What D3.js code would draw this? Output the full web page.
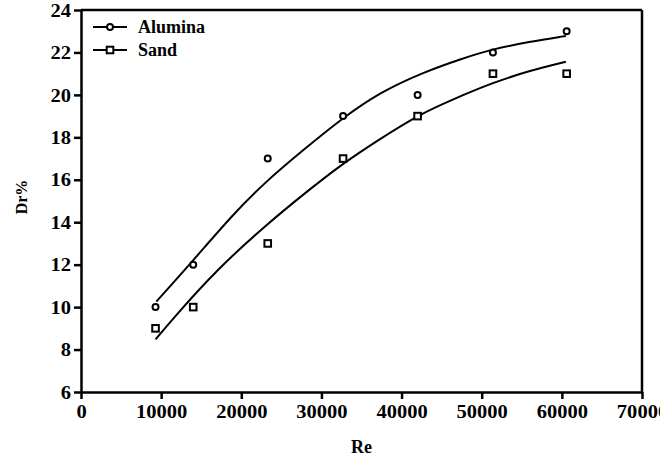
<!DOCTYPE html>
<html>
<head>
<meta charset="utf-8">
<script src="https://cdn.jsdelivr.net/npm/d3@7"></script>
<style>
  html, body { margin: 0; padding: 0; background: #fff; }
  svg { display: block; }
  svg text { font-family: "Liberation Serif", "Times New Roman", serif; }
</style>
</head>
<body>
<svg id="chart" width="660" height="460"></svg>
<script>
// Dr% vs Re, measured points + fitted curves for two bed materials

const X_TICKS = [0, 10000, 20000, 30000, 40000, 50000, 60000, 70000];
const Y_TICKS = [6, 8, 10, 12, 14, 16, 18, 20, 22, 24];

const ALUMINA_RE = [9300, 14000, 23300, 32700, 42000, 51400, 60600];
const ALUMINA_DR = [10, 12, 17, 19, 20, 22, 23];
const SAND_RE    = [9300, 14000, 23300, 32700, 42000, 51400, 60600];
const SAND_DR    = [9, 10, 13, 17, 19, 21, 21];

// fitted curves
const ALUMINA_FIT = [[9400, 10.26], [13900, 12.15], [18900, 14.35], [23100, 15.93], [27300, 17.27],
                     [32600, 18.9], [37200, 20.1], [42600, 21.05], [47600, 21.72], [51400, 22.16],
                     [55900, 22.5], [60500, 22.78]];
const SAND_FIT    = [[9300, 8.48], [11500, 9.47], [16900, 11.75], [23100, 13.88], [28500, 15.54],
                     [32600, 16.75], [37200, 17.9], [42200, 19.08], [46400, 19.79], [51400, 20.58],
                     [55900, 21.13], [60500, 21.56]];

const SERIES = [
    { name: 'Alumina', re: ALUMINA_RE, dr: ALUMINA_DR, fit: ALUMINA_FIT, marker: 'circle' },
    { name: 'Sand',    re: SAND_RE,    dr: SAND_DR,    fit: SAND_FIT,    marker: 'square' },
];

const M = { top: 10, right: 18, bottom: 68, left: 81 };
const W = 660, H = 460;
const iW = W - M.left - M.right;
const iH = H - M.top - M.bottom;

const svg = d3.select('#chart');
const g = svg.append('g').attr('transform', `translate(${M.left},${M.top})`);

const x = d3.scaleLinear().domain([0, 70000]).range([0, iW]);
const y = d3.scaleLinear().domain([6, 24]).range([iH, 0]);

// ── Axes ──────────────────────────────────────────────────────────────────
const xAx = g.append('g').attr('transform', `translate(0,${iH})`)
    .call(d3.axisBottom(x).tickValues(X_TICKS).tickFormat(d3.format('d')).tickSize(7).tickSizeOuter(0));
const yAx = g.append('g')
    .call(d3.axisLeft(y).tickValues(Y_TICKS).tickSize(7).tickSizeOuter(0));

[xAx, yAx].forEach(a => {
    a.attr('font-family', null).attr('font-size', null);
    a.selectAll('path, line').attr('stroke', '#000').attr('stroke-width', 2.5);
    a.selectAll('text').attr('fill', '#000').attr('font-size', '18px').attr('font-weight', 'bold');
    // the original digits are a bit wider than the font's
    a.selectAll('text').each(function() {
        this.setAttribute('textLength', this.getComputedTextLength() * 1.14);
        this.setAttribute('lengthAdjust', 'spacingAndGlyphs');
    });
});
xAx.selectAll('text').attr('dy', null).attr('y', 26);
yAx.selectAll('text').attr('x', -10).attr('dy', '0.34em');

// top + right frame
g.append('line').attr('x1', 0).attr('x2', iW).attr('y1', 0).attr('y2', 0)
    .attr('stroke', '#000').attr('stroke-width', 2.5);
g.append('line').attr('x1', iW).attr('x2', iW).attr('y1', 0).attr('y2', iH)
    .attr('stroke', '#000').attr('stroke-width', 2.5);

// axis titles
g.append('text').attr('x', iW / 2).attr('y', iH + 61)
    .attr('text-anchor', 'middle').attr('font-size', '18px').attr('font-weight', 'bold')
    .text('Re');
g.append('text').attr('transform', 'rotate(-90)')
    .attr('x', -iH / 2 + 4).attr('y', -54)
    .attr('text-anchor', 'middle').attr('font-size', '16px').attr('font-weight', 'bold')
    .text('Dr%');

// ── Curves + markers ──────────────────────────────────────────────────────
const line = d3.line().x(d => x(d[0])).y(d => y(d[1])).curve(d3.curveBasis);

function drawMarker(sel, type, cx, cy) {
    if (type === 'circle') {
        sel.append('circle').attr('cx', cx).attr('cy', cy).attr('r', 3)
            .attr('fill', '#fff').attr('stroke', '#000').attr('stroke-width', 2);
    } else {
        sel.append('rect').attr('x', cx - 3.3).attr('y', cy - 3.3).attr('width', 6.6).attr('height', 6.6)
            .attr('fill', '#fff').attr('stroke', '#000').attr('stroke-width', 2);
    }
}

SERIES.forEach(s => {
    g.append('path').datum(s.fit).attr('d', line)
        .attr('fill', 'none').attr('stroke', '#000').attr('stroke-width', 2);
    s.re.forEach((re, i) => drawMarker(g, s.marker, x(re), y(s.dr[i])));
});

// ── Legend ────────────────────────────────────────────────────────────────
const leg = g.append('g').attr('transform', 'translate(12,17)');
SERIES.forEach((s, i) => {
    const ly = i * 23;
    leg.append('line').attr('x1', 0).attr('x2', 34).attr('y1', ly).attr('y2', ly)
        .attr('stroke', '#000').attr('stroke-width', 2);
    drawMarker(leg, s.marker, 17, ly);
    leg.append('text').attr('x', 45).attr('y', ly).attr('dy', '0.33em')
        .attr('font-size', '18px').attr('font-weight', 'bold').text(s.name);
});
</script>
</body>
</html>
